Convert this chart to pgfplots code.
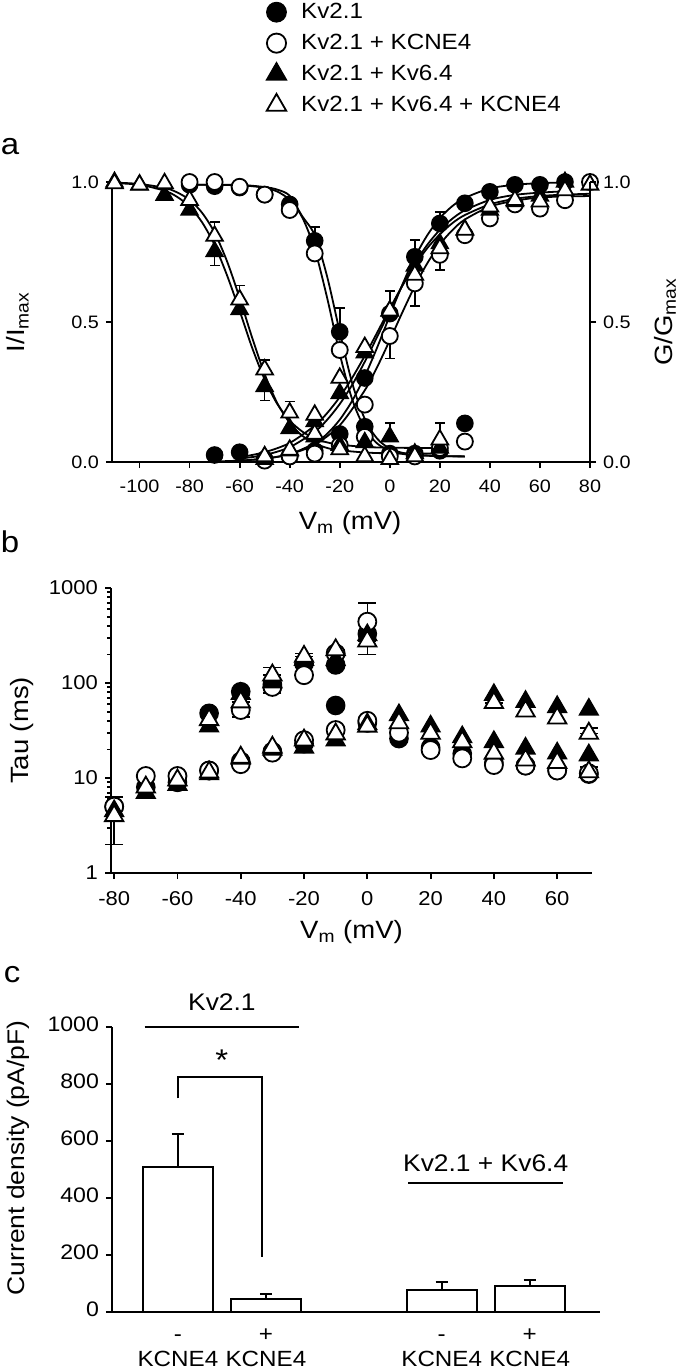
\documentclass[border=0pt]{standalone}
\usepackage{pgfplots}
\pgfplotsset{compat=1.18}
\usepackage{pgfplotstable}
\usepackage{fontspec}
\setmainfont{Liberation Sans}[FakeStretch=1.1]

\pgfplotsset{
  panel/.style={
    scale only axis, clip=false,
    axis x line*=bottom, axis y line*=left,
    axis line style={line width=1pt, black},
    tick style={line width=0.9pt, black},
    tick align=outside,
    major tick length=3pt, minor tick length=2pt,
    /pgf/number format/assume math mode=true,
    /pgf/number format/1000 sep={},
  },
  fc/.style={only marks, mark=*, mark options={draw=black, fill=black, line width=0.8pt}},
  oc/.style={only marks, mark=*, mark options={draw=black, fill=white, line width=0.9pt}},
  ft/.style={only marks, mark=triangle*, mark options={draw=black, fill=black, line width=0.8pt}},
  ot/.style={only marks, mark=triangle*, mark options={draw=black, fill=white, line width=0.9pt}},
  fitline/.style={black, line width=0.9pt, smooth, no marks, forget plot},
  ebars/.style={only marks, mark=none, forget plot, black,
    error bars/.cd, y dir=both, y explicit,
    error bar style={line width=0.8pt, black},
    error mark options={rotate=90, mark size=#1, line width=0.8pt, black}},
}

% ---------- panel a data ----------
\pgfplotstableread{
x y
-80 0.99
-70 0.985
-60 0.98
-50 0.955
-40 0.92
-30 0.79
-20 0.465
-10 0.126
0 0.03
10 0.03
20 0.04
30 0.138
}\aFCi
\pgfplotstableread{
x y
-70 0.025
-60 0.035
-50 0.01
-40 0.02
-30 0.04
-20 0.10
-10 0.30
0 0.53
10 0.733
20 0.852
30 0.924
40 0.965
50 0.99
60 0.99
70 1.0
}\aFCa
\pgfplotstableread{
x y
-80 1.0
-70 1.0
-60 0.983
-50 0.955
-40 0.90
-30 0.745
-20 0.40
-10 0.09
0 0.02
10 0.02
20 0.05
30 0.073
}\aOCi
\pgfplotstableread{
x y
-50 0.005
-40 0.02
-30 0.03
-20 0.06
-10 0.205
0 0.45
10 0.638
20 0.74
30 0.81
40 0.87
50 0.92
60 0.905
70 0.935
80 1.0
}\aOCa
\pgfplotstableread{
x y
-110 1.0
-100 0.99
-90 0.953
-80 0.90
-70 0.752
-60 0.545
-50 0.27
-40 0.12
-30 0.09
-20 0.06
-10 0.07
0 0.09
10 0.03
20 0.05
}\aFTi
\pgfplotstableread{
x y
-50 0.01
-40 0.04
-30 0.145
-20 0.245
-10 0.39
0 0.54
10 0.70
20 0.78
30 0.83
40 0.90
50 0.93
60 0.95
70 1.0
}\aFTa
\pgfplotstableread{
x y
-110 0.995
-100 0.99
-90 0.995
-80 0.935
-70 0.807
-60 0.58
-50 0.33
-40 0.176
-30 0.10
-20 0.045
-10 0.02
0 0.01
10 0.02
20 0.08
}\aOTi
\pgfplotstableread{
x y
-50 0.02
-40 0.043
-30 0.168
-20 0.30
-10 0.41
0 0.54
10 0.668
20 0.763
30 0.829
40 0.912
50 0.935
60 0.93
70 0.97
80 0.99
}\aOTa
\pgfplotstableread{
x y ep em
-30 0.79 0.05 0
-20 0.465 0.085 0
10 0.733 0.06 0
20 0.852 0.04 0
0 0.45 0 0.08
10 0.638 0 0.08
20 0.74 0 0.055
-70 0.752 0 0.05
-50 0.27 0 0.05
0 0.09 0.05 0
-70 0.807 0.05 0
-60 0.58 0.05 0
-50 0.33 0.035 0
-40 0.176 0.04 0
20 0.08 0.06 0
0 0.54 0.07 0
}\aErr
% fitted curves
\pgfplotstableread{
x y
-80 0.99
-70 0.99
-60 0.99
-50 0.982
-45 0.973
-40 0.951
-35 0.878
-30 0.81
-25 0.661
-20 0.465
-15 0.281
-10 0.154
-5 0.083
0 0.048
5 0.033
10 0.027
20 0.021
30 0.02
}\fFCi
\pgfplotstableread{
x y
-80 0.99
-70 0.99
-60 0.988
-55 0.985
-50 0.979
-45 0.966
-40 0.936
-35 0.874
-30 0.76
-25 0.585
-20 0.386
-15 0.223
-10 0.12
-5 0.066
0 0.04
5 0.029
10 0.024
20 0.021
30 0.02
}\fOCi
\pgfplotstableread{
x y
-110 0.996
-100 0.99
-90 0.969
-85 0.947
-80 0.912
-75 0.856
-70 0.775
-65 0.666
-60 0.54
-55 0.408
-50 0.295
-45 0.208
-40 0.148
-35 0.109
-30 0.084
-25 0.07
-20 0.062
-10 0.054
0 0.051
20 0.05
}\fFTi
\pgfplotstableread{
x y
-110 0.998
-100 0.993
-90 0.979
-85 0.963
-80 0.936
-75 0.89
-70 0.819
-65 0.716
-60 0.586
-55 0.444
-50 0.314
-45 0.211
-40 0.14
-35 0.094
-30 0.067
-25 0.05
-20 0.042
-10 0.034
0 0.031
20 0.03
}\fOTi
\pgfplotstableread{
x y
-70 0.002
-60 0.005
-50 0.012
-40 0.028
-30 0.067
-25 0.101
-20 0.151
-15 0.219
-10 0.306
-5 0.41
0 0.523
5 0.633
10 0.731
15 0.81
20 0.871
25 0.914
30 0.943
40 0.977
50 0.99
60 0.996
70 0.998
}\fFCa
\pgfplotstableread{
x y
-60 0.005
-50 0.012
-40 0.028
-30 0.062
-20 0.131
-10 0.256
-5 0.34
0 0.435
5 0.534
10 0.628
15 0.71
20 0.777
25 0.828
30 0.866
40 0.912
50 0.933
60 0.945
70 0.948
80 0.95
}\fOCa
\pgfplotstableread{
x y
-60 0.012
-50 0.025
-40 0.053
-30 0.108
-25 0.151
-20 0.207
-15 0.276
-10 0.358
-5 0.448
0 0.54
5 0.63
10 0.709
15 0.776
20 0.829
25 0.869
30 0.899
40 0.936
50 0.954
60 0.962
70 0.967
}\fFTa
\pgfplotstableread{
x y
-60 0.017
-50 0.035
-40 0.068
-30 0.13
-25 0.175
-20 0.232
-15 0.301
-10 0.379
-5 0.463
0 0.548
5 0.629
10 0.702
15 0.764
20 0.813
25 0.853
30 0.882
40 0.92
50 0.94
60 0.95
70 0.955
80 0.958
}\fOTa

% ---------- panel b data ----------
\pgfplotstableread{
x y
-80 5
-70 8
-60 9
-50 12
-40 15
-30 19
-20 23
-10 58
0 38
10 26
20 21
30 18
40 14.5
50 13.5
60 12
70 11
}\bFClo
\pgfplotstableread{
x y
-50 48
-40 81
-30 97
-20 160
-10 155
0 330
}\bFChi
\pgfplotstableread{
x y
-80 5
-70 10.5
-60 10.5
-50 12
-40 14
-30 18.5
-20 25
-10 32
0 40
10 30
20 19.7
30 16.1
40 13.7
50 13.5
60 12
70 11.2
}\bOClo
\pgfplotstableread{
x y
-40 52
-30 91
-20 121
-10 205
0 442
}\bOChi
\pgfplotstableread{
x y
-80 4.5
-70 7
-60 8.5
-50 11
-40 16
-30 20
-20 21
-10 25
0 37
10 46
20 35
30 27
40 24
50 20.5
60 18.2
70 17.4
}\bFTlo
\pgfplotstableread{
x y
-50 35
-40 77
-30 102
-20 176
-10 175
0 320
40 75
50 63.6
60 56
70 52.6
}\bFThi
\pgfplotstableread{
x y
-80 4
-70 8
-60 9.5
-50 11.5
-40 16.5
-30 21
-20 25
-10 29
0 35
10 38
20 29.5
30 24
40 18.2
50 15.4
60 14.5
70 11.6
}\bOTlo
\pgfplotstableread{
x y
-50 41
-40 63
-30 121
-20 190
-10 223
0 275
40 62
50 50.5
60 42.7
70 29.5
}\bOThi
\pgfplotstableread{
x y ep em
-80 4 0 2
-80 5 1.3 0
-40 52 0 8
-40 63 0 10
-30 91 0 12
-30 121 25 0
-20 190 15 0
-10 205 20 0
0 442 250 0
0 275 0 75
40 62 6 0
70 29.5 4 0
70 11.6 1.5 0
}\bErr

\begin{document}
\begin{tikzpicture}[x=1pt,y=1pt]
\useasboundingbox (0,0) rectangle (342.5,-685.5);

% ================= panel a =================
\begin{axis}[panel, at={(56pt,-231pt)}, anchor=south west,
  width=239pt, height=140pt,
  xmin=-111, xmax=80, ymin=0, ymax=1,
  xtick={-100,-80,...,80}, ytick={0,0.5,1},
  yticklabel style={/pgf/number format/.cd, fixed, fixed zerofill, precision=1},
  xticklabel style={yshift=-2.5pt},
  tick label style={font=\fontsize{9}{10}\selectfont},
  label style={font=\fontsize{12.5}{14}\selectfont},
  xlabel={V\textsubscript{m} (mV)}, ylabel={I/I\textsubscript{max}},
  xlabel style={at={(axis description cs:0.498,-0.218)}, anchor=center},
  ylabel style={at={(axis description cs:-0.197,0.5)}, anchor=center},
  legend cell align=left,
  legend style={at={(axis description cs:0.323,1.655)}, anchor=north west,
    draw=none, fill=none, inner sep=0pt, row sep=2.3pt,
    font=\fontsize{11}{12.5}\selectfont,
    /tikz/every odd column/.append style={column sep=5.5pt}},
]
\addplot[fitline] table {\fFCi};
\addplot[fitline] table {\fOCi};
\addplot[fitline] table {\fFTi};
\addplot[fitline] table {\fOTi};
\addplot[fitline] table {\fFCa};
\addplot[fitline] table {\fOCa};
\addplot[fitline] table {\fFTa};
\addplot[fitline] table {\fOTa};
\addplot[ebars=2.5pt] table[x=x, y=y, y error plus=ep, y error minus=em] {\aErr};
\addplot[fc, mark size=4pt, forget plot] table {\aFCi};
\addplot[fc, mark size=4pt, forget plot] table {\aFCa};
\addplot[oc, mark size=4pt, forget plot] table {\aOCi};
\addplot[oc, mark size=4pt, forget plot] table {\aOCa};
\addplot[ft, mark size=4.8pt, forget plot] table {\aFTi};
\addplot[ft, mark size=4.8pt, forget plot] table {\aFTa};
\addplot[ot, mark size=4.8pt, forget plot] table {\aOTi};
\addplot[ot, mark size=4.8pt, forget plot] table {\aOTa};
\addlegendimage{fc, mark size=4.8pt}
\addlegendentry{Kv2.1}
\addlegendimage{oc, mark size=4.8pt}
\addlegendentry{Kv2.1 + KCNE4}
\addlegendimage{ft, mark size=5.6pt}
\addlegendentry{Kv2.1 + Kv6.4}
\addlegendimage{ot, mark size=5.6pt}
\addlegendentry{Kv2.1 + Kv6.4 + KCNE4}
\end{axis}

\begin{axis}[panel, axis y line*=right, axis x line=none,
  at={(56pt,-231pt)}, anchor=south west,
  width=239pt, height=140pt,
  xmin=-111, xmax=80, ymin=0, ymax=1,
  ytick={0,0.5,1},
  yticklabel style={/pgf/number format/.cd, fixed, fixed zerofill, precision=1},
  tick label style={font=\fontsize{9}{10}\selectfont},
  label style={font=\fontsize{12.5}{14}\selectfont},
  ylabel={G/G\textsubscript{max}},
  ylabel style={at={(axis description cs:1.157,0.5)}, anchor=center},
]
\end{axis}

% ================= panel b =================
\begin{axis}[panel, at={(55.5pt,-436.5pt)}, anchor=south west,
  width=240.5pt, height=142.5pt,
  xmin=-81, xmax=71, ymode=log, ymin=1, ymax=1000,
  xtick={-80,-60,...,60},
  ytick={1,10,100,1000}, yticklabels={1,10,100,1000},
  minor ytick={2,3,...,9,20,30,...,90,200,300,...,900},
  xticklabel style={yshift=-2.5pt},
  tick label style={font=\fontsize{10}{12}\selectfont},
  label style={font=\fontsize{12.5}{14}\selectfont},
  xlabel={V\textsubscript{m} (mV)}, ylabel={Tau (ms)},
  xlabel style={at={(axis description cs:0.5,-0.207)}, anchor=center},
  ylabel style={at={(axis description cs:-0.185,0.5)}, anchor=center},
]
\addplot[ebars=4.5pt] table[x=x, y=y, y error plus=ep, y error minus=em] {\bErr};
\addplot[fc, mark size=4.5pt] table {\bFClo};
\addplot[fc, mark size=4.5pt] table {\bFChi};
\addplot[oc, mark size=4.5pt] table {\bOClo};
\addplot[oc, mark size=4.5pt] table {\bOChi};
\addplot[ft, mark size=5.3pt] table {\bFTlo};
\addplot[ft, mark size=5.3pt] table {\bFThi};
\addplot[ot, mark size=5.3pt] table {\bOTlo};
\addplot[ot, mark size=5.3pt] table {\bOThi};
\end{axis}

% ================= panel c =================
\begin{axis}[panel, at={(56pt,-656pt)}, anchor=south west,
  width=244pt, height=142.5pt,
  xmin=0.25, xmax=5.8, ymin=0, ymax=1000,
  xtick={1,2,4,5},
  xticklabels={{-\\KCNE4},{+\\KCNE4},{-\\KCNE4},{+\\KCNE4}},
  typeset ticklabels with strut,
  x tick label style={align=center, font=\fontsize{11}{12.8}\selectfont, yshift=1pt},
  xtick style={draw=none},
  ytick={0,200,...,1000},
  y tick label style={font=\fontsize{10.5}{12}\selectfont},
  label style={font=\fontsize{12}{14}\selectfont},
  ylabel={Current density (pA/pF)},
  ylabel style={at={(axis description cs:-0.193,0.54)}, anchor=center},
]
\addplot[ybar, bar width=35pt, fill=white, draw=black, line width=1pt,
  error bars/.cd, y dir=plus, y explicit,
  error bar style={line width=1pt, black},
  error mark options={rotate=90, mark size=3pt, line width=1pt, black}]
  coordinates {(1,510) +- (0,113) (2,47) +- (0,17) (4,78) +- (0,27) (5,92) +- (0,20)};
\draw[line width=1pt] (axis cs:0.62,1000) -- (axis cs:2.38,1000);
\node[font=\fontsize{12}{14}\selectfont] at (axis cs:1.5,1088) {Kv2.1};
\draw[line width=1pt] (axis cs:1,750) -- (axis cs:1,825) -- (axis cs:1.96,825) -- (axis cs:1.96,194);
\node[font=\fontsize{15}{16}\selectfont] at (axis cs:1.5,885) {*};
\draw[line width=1pt] (axis cs:3.62,452) -- (axis cs:5.38,452);
\node[font=\fontsize{12}{14}\selectfont] at (axis cs:4.5,522) {Kv2.1 + Kv6.4};
\end{axis}

% panel letters
\node[font=\fontsize{15}{16}\selectfont] at (5,-73.5) {a};
\node[font=\fontsize{15}{16}\selectfont] at (5,-271) {b};
\node[font=\fontsize{15}{16}\selectfont] at (6,-487.5) {c};
\end{tikzpicture}
\end{document}
